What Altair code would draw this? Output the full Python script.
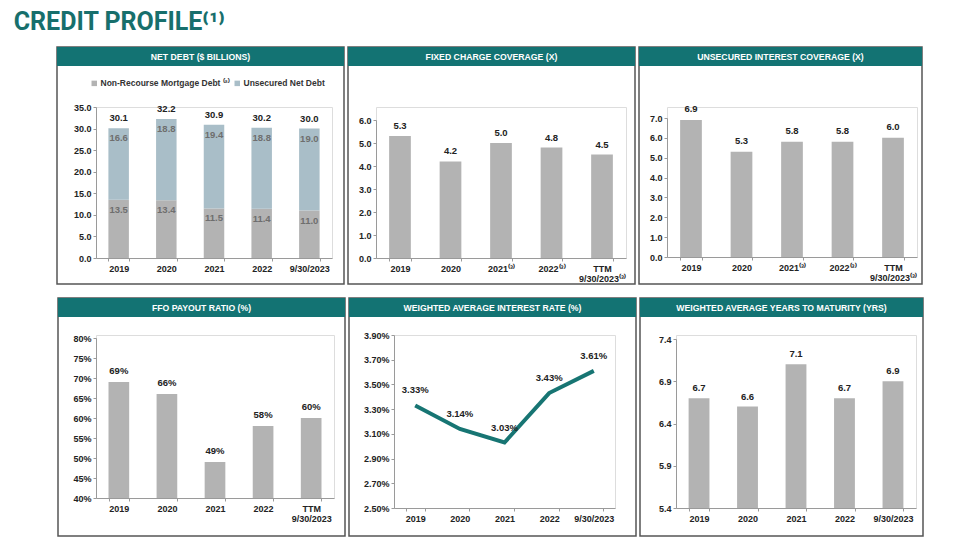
import altair as alt
import pandas as pd

# ---------------- data ----------------
nd_cats = ["2019", "2020", "2021", "2022", "9/30/2023"]
nd_nonrecourse = [13.5, 13.4, 11.5, 11.4, 11.0]
nd_unsecured = [16.6, 18.8, 19.4, 18.8, 19.0]
nd_total = [30.1, 32.2, 30.9, 30.2, 30.0]
nd_series = ["Non-Recourse Mortgage Debt ⁽²⁾", "Unsecured Net Debt"]
nd_ticks = [0, 5, 10, 15, 20, 25, 30, 35]

fcc_cats = ["2019", "2020", "2021⁽³⁾", "2022⁽³⁾", "TTM|9/30/2023⁽³⁾"]
fcc_vals = [5.3, 4.2, 5.0, 4.8, 4.5]
fcc_ticks = [0, 1, 2, 3, 4, 5, 6]

uic_cats = ["2019", "2020", "2021⁽³⁾", "2022⁽³⁾", "TTM|9/30/2023⁽³⁾"]
uic_vals = [6.9, 5.3, 5.8, 5.8, 6.0]
uic_ticks = [0, 1, 2, 3, 4, 5, 6, 7]

ffo_cats = ["2019", "2020", "2021", "2022", "TTM|9/30/2023"]
ffo_vals = [0.69, 0.66, 0.49, 0.58, 0.60]
ffo_ticks = [0.40, 0.45, 0.50, 0.55, 0.60, 0.65, 0.70, 0.75, 0.80]

rate_cats = ["2019", "2020", "2021", "2022", "9/30/2023"]
rate_vals = [3.33, 3.14, 3.03, 3.43, 3.61]
rate_ticks = [2.5, 2.7, 2.9, 3.1, 3.3, 3.5, 3.7, 3.9]

mat_cats = ["2019", "2020", "2021", "2022", "9/30/2023"]
mat_vals = [6.7, 6.6, 7.1, 6.7, 6.9]
mat_ticks = [5.4, 5.9, 6.4, 6.9, 7.4]

# ---------------- style ----------------
FONT = "Liberation Sans"
TEAL = "#137373"
BAR = "#b3b3b3"
BLUEGRAY = "#a9bec8"
AXC = "#9a9a9a"
TXT = "#222222"


def xenc(cats):
    return alt.X(
        "cat:N", sort=cats, title=None,
        scale=alt.Scale(paddingInner=0.57, paddingOuter=0.26),
        axis=alt.Axis(labelAngle=0, labelExpr="split(datum.label, '|')",
                      labelFont=FONT, labelFontWeight="bold", labelFontSize=9,
                      labelColor=TXT, labelPadding=3, labelLineHeight=10,
                      domainColor=AXC, tickColor=AXC, tickSize=3,
                      tickBand="extent", labelOverlap=False, zindex=1),
    )


def yaxis(ticks, fmt=None, expr=None):
    kw = dict(values=ticks, labelFont=FONT, labelFontWeight="bold",
              labelFontSize=9, labelColor=TXT, labelPadding=2,
              domainColor=AXC, tickColor=AXC, tickSize=3, grid=False,
              zindex=1)
    if fmt:
        kw["format"] = fmt
    if expr:
        kw["labelExpr"] = expr
    return alt.Axis(**kw)


def frame(L, W, T, H, title):
    one = pd.DataFrame({"k": [0]})
    R = L + W
    border = alt.Chart(one).mark_rect(
        fill="white", fillOpacity=0, stroke="#555555", strokeWidth=1.5
    ).encode(x=alt.value(L), x2=alt.value(R), y=alt.value(T), y2=alt.value(T + H))
    head = alt.Chart(one).mark_rect(fill=TEAL).encode(
        x=alt.value(L), x2=alt.value(R), y=alt.value(T), y2=alt.value(T + 19))
    htxt = alt.Chart(one).mark_text(
        font=FONT, fontWeight="bold", fontSize=8.7, color="white",
        align="center", baseline="middle"
    ).encode(x=alt.value((L + R) / 2), y=alt.value(T + 10), text=alt.value(title))
    return [border, head, htxt]


def bar_panel(cats, vals, ticks, fmt, w, h, ytop, L, W, T, H, title, dy=-10):
    df = pd.DataFrame({"cat": cats, "v": vals})
    ymin, ymax = ticks[0], ticks[-1]
    y = alt.Y("v:Q", title=None,
              scale=alt.Scale(domain=[ymin, ymax], range=[h, ytop], zero=False, nice=False),
              axis=yaxis(ticks, fmt))
    bars = alt.Chart(df).mark_bar(color=BAR).encode(
        x=xenc(cats), y=y, y2=alt.datum(ymin))
    labs = alt.Chart(df).mark_text(
        font=FONT, fontWeight="bold", fontSize=9.5, color=TXT, dy=dy,
        baseline="middle"
    ).encode(x=xenc(cats), y=y, text=alt.Text("v:Q", format=fmt))
    return alt.layer(*frame(L, W, T, H, title), bars, labs).properties(width=w, height=h)


# ---------------- panel A: net debt (stacked) ----------------
rows = []
for c, a, b in zip(nd_cats, nd_nonrecourse, nd_unsecured):
    rows.append({"cat": c, "series": nd_series[0], "bot": 0.0, "top": a, "v": a})
    rows.append({"cat": c, "series": nd_series[1], "bot": a, "top": a + b, "v": b})
nd_df = pd.DataFrame(rows)
tot_df = pd.DataFrame({"cat": nd_cats, "top": nd_total})

yA = alt.Y("top:Q", title=None,
           scale=alt.Scale(domain=[0, 35], nice=False), axis=yaxis(nd_ticks, ".1f"))
barsA = alt.Chart(nd_df).mark_bar().encode(
    x=xenc(nd_cats), y=yA, y2="bot:Q",
    color=alt.Color("series:N", scale=alt.Scale(domain=nd_series, range=[BAR, BLUEGRAY]),
                    legend=alt.Legend(orient="none", legendX=-6, legendY=-28,
                                      direction="horizontal", title=None,
                                      symbolType="square", symbolSize=30,
                                      symbolStrokeWidth=0, labelFont=FONT,
                                      labelFontWeight="bold", labelFontSize=8.5,
                                      labelColor="#333333", columnPadding=3,
                                      labelOffset=2, padding=0, labelLimit=300)),
)
segA = alt.Chart(nd_df).mark_text(
    font=FONT, fontWeight="bold", fontSize=9.5, color="#6e6e6e", dy=10, baseline="middle"
).encode(x=xenc(nd_cats), y=yA, text=alt.Text("v:Q", format=".1f"))
totA = alt.Chart(tot_df).mark_text(
    font=FONT, fontWeight="bold", fontSize=9.5, color=TXT, dy=-10, baseline="middle"
).encode(x=xenc(nd_cats), y=yA, text=alt.Text("top:Q", format=".1f"))
pA = alt.layer(*frame(-39, 287, -60, 237, "NET DEBT ($ BILLIONS)"), barsA, segA, totA
               ).properties(width=236, height=151)

# ---------------- panels B, C (row 1: common plot top) ----------------
pB = bar_panel(fcc_cats, fcc_vals, fcc_ticks, ".1f", 250, 151, 13,
               -28, 287, -60, 237, "FIXED CHARGE COVERAGE (X)")
pC = bar_panel(uic_cats, uic_vals, uic_ticks, ".1f", 250, 150, 11,
               -28, 283, -60, 237, "UNSECURED INTEREST COVERAGE (X)", dy=-11)

# ---------------- row 2 ----------------
pD = bar_panel(ffo_cats, ffo_vals, ffo_ticks, ".0%", 238, 163, 3,
               -38, 287, -37, 238, "FFO PAYOUT RATIO (%)", dy=-11)

rate_df = pd.DataFrame({"cat": rate_cats, "v": rate_vals})
yE = alt.Y("v:Q", title=None,
           scale=alt.Scale(domain=[rate_ticks[0], rate_ticks[-1]], zero=False, nice=False),
           axis=yaxis(rate_ticks, expr="format(datum.value, '.2f') + '%'"))
lineE = alt.Chart(rate_df).mark_line(color="#177573", strokeWidth=4).encode(
    x=xenc(rate_cats), y=yE)
labE = alt.Chart(rate_df).transform_calculate(
    lab="format(datum.v, '.2f') + '%'"
).mark_text(font=FONT, fontWeight="bold", fontSize=9.5, color=TXT, dy=-15,
            baseline="middle").encode(x=xenc(rate_cats), y=yE, text="lab:N")
pE = alt.layer(*frame(-45, 287, -37, 238, "WEIGHTED AVERAGE INTEREST RATE (%)"), lineE, labE
               ).properties(width=221, height=173)

pF = bar_panel(mat_cats, mat_vals, mat_ticks, ".1f", 240, 173, 4,
               -36, 283, -37, 238, "WEIGHTED AVERAGE YEARS TO MATURITY (YRS)")

row1 = alt.hconcat(pA, pB, pC, spacing=0)
row2 = alt.hconcat(pD, pE, pF, spacing=0)

chart = alt.vconcat(row1, row2, spacing=10).properties(
    title=alt.TitleParams("CREDIT PROFILE⁽¹⁾", anchor="start", dx=-42,
                          font="Roboto", fontSize=25, fontWeight="bold",
                          color="#176f6c", offset=-9, baseline="alphabetic"),
    padding={"left": 5, "top": 1, "right": 5, "bottom": 2},
).configure_view(stroke=None).configure(background="white")

chart.save("out.html", embed_options={"renderer": "svg", "actions": False})
